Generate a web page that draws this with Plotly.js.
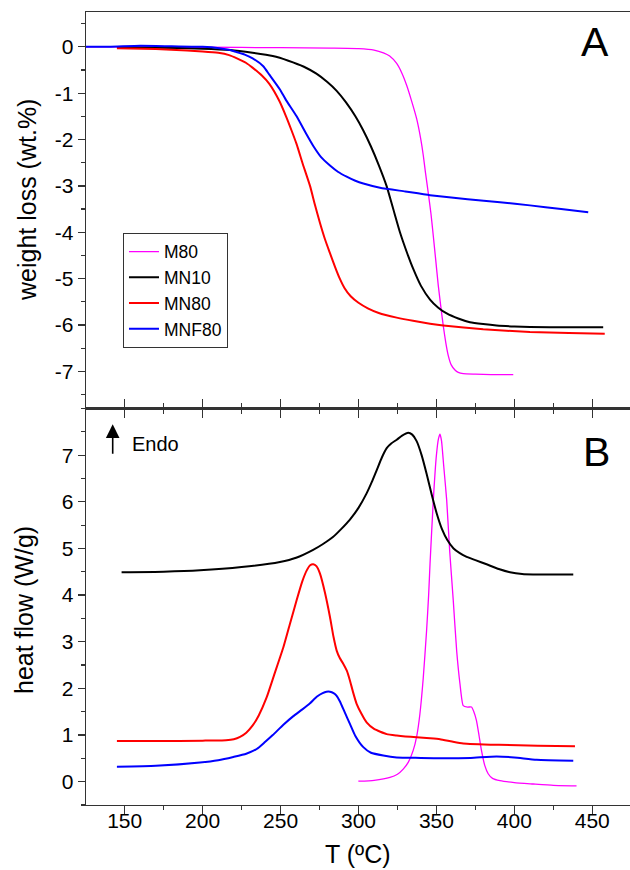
<!DOCTYPE html>
<html>
<head>
<meta charset="utf-8">
<script src="https://cdn.plot.ly/plotly-3.0.1.min.js"></script>
<style>html,body{margin:0;padding:0;background:#fff;}#chart{width:630px;height:870px;}</style>
</head>
<body>
<div id="chart"></div>
<script>
// ---------- Panel A: TGA weight loss (wt.%) ----------
const tA_M80 = [125, 150, 200, 250, 282, 300, 310, 316, 320, 324.5, 328, 331, 334, 337.3, 340, 341.6, 343, 344.8, 346.5, 348, 349.5, 351.2, 353, 354.4, 356, 357.6, 359.5, 361.9, 364, 367.2, 375, 385, 399.3];
const wA_M80 = [0, 0, -0.01, -0.02, -0.03, -0.04, -0.07, -0.13, -0.2, -0.36, -0.58, -0.84, -1.16, -1.55, -2.0, -2.35, -2.72, -3.16, -3.6, -4.08, -4.58, -5.15, -5.65, -6.02, -6.38, -6.66, -6.86, -6.97, -7.02, -7.05, -7.06, -7.07, -7.07];

const tA_MN10 = [145, 170, 200, 217.6, 232, 245, 255, 265, 273, 280, 286, 292, 298, 303, 308, 313, 318, 322.3, 326.6, 330.9, 335, 340, 345.9, 351, 356.6, 364, 371.5, 380, 388.6, 400, 410, 435, 457];
const wA_MN10 = [-0.01, -0.02, -0.04, -0.07, -0.13, -0.2, -0.3, -0.43, -0.58, -0.76, -0.95, -1.2, -1.5, -1.8, -2.15, -2.55, -3.0, -3.5, -4.0, -4.42, -4.78, -5.15, -5.45, -5.62, -5.75, -5.86, -5.94, -5.98, -6.01, -6.03, -6.04, -6.05, -6.05];

const tA_MN80 = [145, 170, 190, 200, 210, 217, 222, 228, 232, 238, 242.8, 249.4, 253.5, 257, 260.3, 264, 268.9, 272, 275.3, 278.5, 281.7, 285, 288, 291, 295, 300, 306, 313, 324.5, 335, 345.9, 354.4, 380, 410, 435, 458];
const wA_MN80 = [-0.03, -0.05, -0.08, -0.1, -0.13, -0.18, -0.25, -0.35, -0.45, -0.62, -0.8, -1.18, -1.5, -1.8, -2.1, -2.5, -3.0, -3.4, -3.8, -4.15, -4.45, -4.75, -5.0, -5.2, -5.38, -5.52, -5.64, -5.74, -5.84, -5.91, -5.97, -6.01, -6.09, -6.15, -6.17, -6.19];

const tA_MNF80 = [125, 140, 160, 180, 200, 210.7, 217.6, 221.4, 227, 232.1, 238.9, 242.8, 249.6, 253.5, 260.3, 266, 271, 276, 281.7, 287, 292.4, 298, 303.1, 313.8, 330, 345.9, 370, 390.8, 410, 430, 447.4];
const wA_MNF80 = [0, 0, 0.02, 0.01, 0, -0.03, -0.07, -0.11, -0.17, -0.25, -0.42, -0.6, -0.92, -1.15, -1.5, -1.85, -2.14, -2.38, -2.56, -2.7, -2.8, -2.89, -2.95, -3.04, -3.12, -3.2, -3.29, -3.35, -3.42, -3.5, -3.57];

// ---------- Panel B: DSC heat flow (W/g) ----------
const tB_MN10 = [148, 175, 198.3, 225, 249.6, 260, 270.9, 277, 283.8, 289, 294.5, 300, 305.2, 308.5, 311.7, 315, 318.1, 321, 324.5, 328, 331.9, 334.5, 337.3, 340.5, 343.7, 347, 350.2, 353.5, 357, 361, 365, 369.4, 375, 382.2, 390, 397.2, 405, 412, 437.8];
const hB_MN10 = [4.49, 4.5, 4.53, 4.6, 4.71, 4.8, 4.97, 5.09, 5.25, 5.42, 5.62, 5.87, 6.18, 6.42, 6.68, 6.95, 7.15, 7.25, 7.33, 7.42, 7.48, 7.44, 7.3, 7.0, 6.6, 6.15, 5.75, 5.42, 5.18, 5.0, 4.9, 4.82, 4.75, 4.66, 4.56, 4.49, 4.45, 4.44, 4.44];

const tB_MN80 = [145, 170, 200, 215, 220, 224, 228, 232, 236, 241, 246, 251.8, 256, 260.3, 264, 266.8, 269, 271, 273, 275.3, 278.5, 281.7, 284, 286, 288, 290.2, 292.5, 294.5, 296.5, 298.8, 302, 305.2, 310, 318.1, 324.5, 337.3, 345.9, 352.3, 360, 367.2, 390, 415, 438.9];
const hB_MN80 = [0.87, 0.87, 0.88, 0.89, 0.91, 0.96, 1.05, 1.2, 1.42, 1.8, 2.3, 2.88, 3.38, 3.89, 4.3, 4.53, 4.64, 4.66, 4.62, 4.46, 4.05, 3.53, 3.1, 2.81, 2.65, 2.53, 2.38, 2.17, 1.92, 1.67, 1.45, 1.27, 1.13, 1.02, 0.99, 0.95, 0.93, 0.91, 0.86, 0.82, 0.79, 0.77, 0.76];

const tB_MNF80 = [145, 170, 198.3, 210, 219.7, 228, 234.7, 240, 245, 251.8, 258, 264, 268.9, 273.2, 277, 279.5, 281.7, 284, 286, 288.1, 291, 294.5, 298, 303.1, 308, 315.9, 324.5, 340, 356.6, 372, 388.6, 400, 414.3, 437.8];
const hB_MNF80 = [0.32, 0.34, 0.41, 0.46, 0.53, 0.6, 0.7, 0.85, 1.0, 1.22, 1.4, 1.55, 1.68, 1.82, 1.9, 1.93, 1.93, 1.9, 1.84, 1.72, 1.5, 1.24, 0.98, 0.74, 0.62, 0.56, 0.52, 0.51, 0.5, 0.51, 0.54, 0.52, 0.47, 0.45];

const tB_M80 = [299.9, 310, 320.2, 325, 328.7, 332, 335.1, 337.5, 339.4, 341.5, 343.7, 345, 345.9, 348, 350, 351.3, 352.3, 353.3, 354.6, 356.6, 358.5, 360.8, 363, 365.1, 367.2, 370, 372.5, 374, 375.7, 377.3, 378.9, 381, 383.2, 386, 390.8, 400, 412.1, 425, 439.9];
const hB_M80 = [0.01, 0.03, 0.09, 0.16, 0.27, 0.42, 0.67, 1.0, 1.45, 2.2, 3.24, 4.0, 4.67, 6.03, 7.0, 7.35, 7.45, 7.3, 6.8, 6.03, 4.95, 3.89, 2.8, 2.1, 1.63, 1.6, 1.6, 1.5, 1.31, 1.0, 0.67, 0.35, 0.17, 0.07, 0.02, -0.02, -0.05, -0.08, -0.09];

const seriesNames = ['M80', 'MN10', 'MN80', 'MNF80'];
const seriesColors = ['#ff00ff', '#000000', '#ff0000', '#0000ff'];
const seriesWidths = [1.3, 2, 2, 2];

const xTickVals = [150, 200, 250, 300, 350, 400, 450];
const yTicksA = [-7, -6, -5, -4, -3, -2, -1, 0];
const yTickTextA = ['-7', '-6', '-5', '-4', '-3', '-2', '-1', '0'];
const yTicksB = [0, 1, 2, 3, 4, 5, 6, 7];

const FONT = 'Liberation Sans, Arial, Helvetica, sans-serif';
const ln = (i) => ({color: seriesColors[i], width: seriesWidths[i], shape: 'spline', smoothing: 0.5});

const traces = [
  {x: tA_M80, y: wA_M80, name: seriesNames[0], xaxis: 'x', yaxis: 'y', mode: 'lines', line: ln(0)},
  {x: tA_MN10, y: wA_MN10, name: seriesNames[1], xaxis: 'x', yaxis: 'y', mode: 'lines', line: ln(1)},
  {x: tA_MN80, y: wA_MN80, name: seriesNames[2], xaxis: 'x', yaxis: 'y', mode: 'lines', line: ln(2)},
  {x: tA_MNF80, y: wA_MNF80, name: seriesNames[3], xaxis: 'x', yaxis: 'y', mode: 'lines', line: ln(3)},
  {x: tB_M80, y: hB_M80, name: seriesNames[0], xaxis: 'x2', yaxis: 'y2', mode: 'lines', line: ln(0), showlegend: false},
  {x: tB_MN10, y: hB_MN10, name: seriesNames[1], xaxis: 'x2', yaxis: 'y2', mode: 'lines', line: ln(1), showlegend: false},
  {x: tB_MN80, y: hB_MN80, name: seriesNames[2], xaxis: 'x2', yaxis: 'y2', mode: 'lines', line: ln(2), showlegend: false},
  {x: tB_MNF80, y: hB_MNF80, name: seriesNames[3], xaxis: 'x2', yaxis: 'y2', mode: 'lines', line: ln(3), showlegend: false},
  // empty helper trace so the label-only axis (x3) is registered and drawn
  {x: [], y: [], xaxis: 'x3', yaxis: 'y2', mode: 'lines', showlegend: false, hoverinfo: 'skip'}
];

const axisCommon = {
  showgrid: false, zeroline: false, showline: true, linecolor: '#333', linewidth: 1.3,
  ticks: 'outside', tickcolor: '#333', tickwidth: 1.3, ticklen: 8,
  tickfont: {family: FONT, size: 21, color: '#000'}
};
const minorX = {dtick: 25, tick0: 0, ticks: 'outside', ticklen: 4, tickcolor: '#333', tickwidth: 1.2};
const minorY = {dtick: 0.5, tick0: 0, ticks: 'outside', ticklen: 4, tickcolor: '#333', tickwidth: 1.2};
const xRange = [125.17, 474.2];

const layout = {
  width: 630, height: 870,
  margin: {l: 86, r: 0, t: 12, b: 65},
  paper_bgcolor: '#fff', plot_bgcolor: '#fff',
  font: {family: FONT, color: '#000'},
  showlegend: true,
  legend: {
    x: 0.068, y: 0.7217, xanchor: 'left', yanchor: 'top',
    bordercolor: '#333', borderwidth: 1, bgcolor: 'rgba(255,255,255,0)',
    font: {family: FONT, size: 17.5, color: '#000'}, tracegroupgap: 0
  },
  xaxis: Object.assign({}, axisCommon, {
    domain: [0, 1], anchor: 'y', range: xRange, tickvals: xTickVals, showticklabels: false, mirror: true,
    minor: minorX
  }),
  yaxis: Object.assign({}, axisCommon, {
    domain: [0.5, 1], anchor: 'x', range: [-7.8, 0.75], tickvals: yTicksA, ticktext: yTickTextA, ticklen: 7,
    minor: minorY
  }),
  xaxis2: Object.assign({}, axisCommon, {
    domain: [0, 1], anchor: 'y2', range: xRange, tickvals: xTickVals, mirror: 'ticks', showticklabels: false,
    minor: minorX
  }),
  // label-only axis sharing the lower panel's scale, so the labels sit close under the ticks
  xaxis3: {
    overlaying: 'x2', anchor: 'y2', side: 'bottom', range: xRange, tickvals: xTickVals,
    ticks: '', showline: false, showgrid: false, zeroline: false, ticklabelstandoff: 1,
    tickfont: {family: FONT, size: 21, color: '#000'}
  },
  yaxis2: Object.assign({}, axisCommon, {
    domain: [0, 0.5], anchor: 'x2', range: [-0.5, 8.0], tickvals: yTicksB, ticklen: 7,
    minor: minorY
  }),
  annotations: [
    {xref: 'paper', yref: 'paper', x: -0.1085, y: 0.7629, xanchor: 'center', yanchor: 'middle', textangle: -90,
     text: 'weight loss (wt.%)', showarrow: false, font: {family: FONT, size: 25, color: '#000'}},
    {xref: 'paper', yref: 'paper', x: -0.114, y: 0.2459, xanchor: 'center', yanchor: 'middle', textangle: -90,
     text: 'heat flow (W/g)', showarrow: false, font: {family: FONT, size: 25, color: '#000'}},
    {xref: 'paper', yref: 'paper', x: 0.5, y: -0.062, xanchor: 'center', yanchor: 'middle',
     text: 'T (ºC)', showarrow: false, font: {family: FONT, size: 25, color: '#000'}},
    {xref: 'paper', yref: 'paper', x: 0.9357, y: 0.962, xanchor: 'center', yanchor: 'middle',
     text: 'A', showarrow: false, font: {family: FONT, size: 41, color: '#000'}},
    {xref: 'paper', yref: 'paper', x: 0.9389, y: 0.4455, xanchor: 'center', yanchor: 'middle',
     text: 'B', showarrow: false, font: {family: FONT, size: 41, color: '#000'}},
    {xref: 'x2', yref: 'y2', x: 142.3, y: 7.66, ax: 0, ay: 31, text: '', showarrow: true,
     arrowhead: 2, arrowsize: 1.7, arrowwidth: 1.6, arrowcolor: '#000', standoff: 0, startstandoff: 0},
    {xref: 'x2', yref: 'y2', x: 153.4, y: 7.24, xanchor: 'left', yanchor: 'middle',
     text: 'Endo', showarrow: false, font: {family: FONT, size: 20, color: '#000'}}
  ]
};

Plotly.newPlot('chart', traces, layout, {staticPlot: true, displayModeBar: false});
</script>
</body>
</html>
